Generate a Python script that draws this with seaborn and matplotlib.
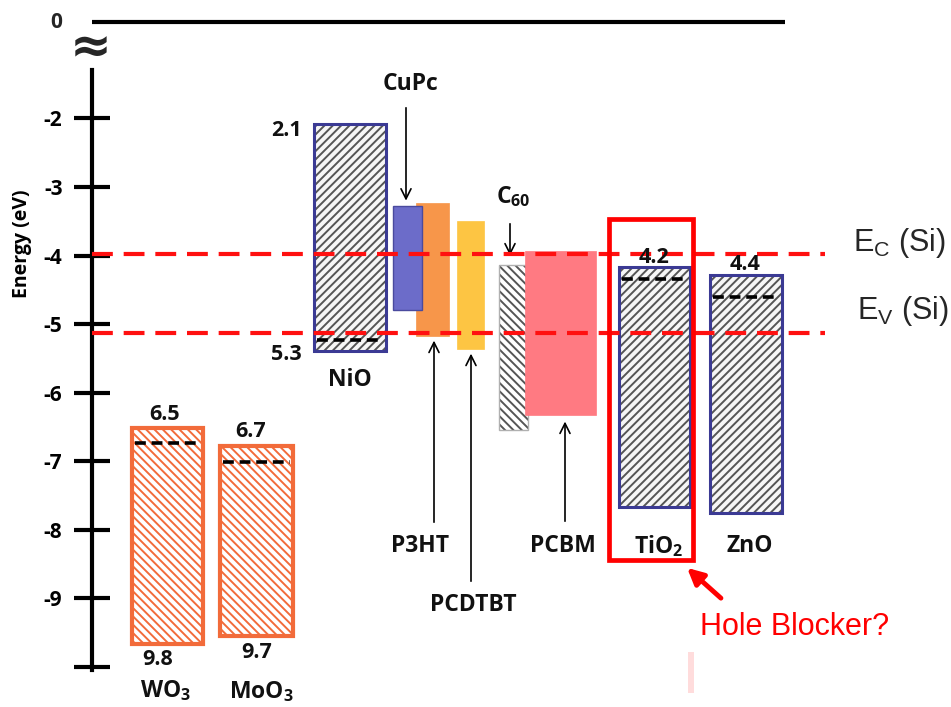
import numpy as np
import pandas as pd
import matplotlib
matplotlib.use("Agg")
import matplotlib.pyplot as plt
from matplotlib.patches import Rectangle
import seaborn as sns

# ---------------- data ----------------
materials = ["WO3", "MoO3", "NiO", "CuPc", "P3HT", "PCDTBT", "C60", "PCBM", "TiO2", "ZnO"]
upper_E = [-6.51, -6.78, -2.08, -3.28, -3.23, -3.49, -4.14, -3.93, -4.17, -4.28]
lower_E = [-9.66, -9.55, -5.39, -4.79, -5.17, -5.36, -6.54, -6.33, -7.67, -7.75]
fermi_materials = ["WO3", "MoO3", "NiO", "TiO2", "ZnO"]
fermi_E = [-6.73, -7.01, -5.23, -4.34, -4.60]
upper_label_mat = ["WO3", "MoO3", "NiO", "TiO2", "ZnO"]
upper_label_txt = ["6.5", "6.7", "2.1", "4.2", "4.4"]
lower_label_mat = ["WO3", "MoO3", "NiO"]
lower_label_txt = ["9.8", "9.7", "5.3"]
si_levels = [-3.98, -5.13]
si_names = [r"E$_\mathregular{C}$ (Si)", r"E$_\mathregular{V}$ (Si)"]
ytick_values = [-2, -3, -4, -5, -6, -7, -8, -9, -10]
ytick_labels = ["-2", "-3", "-4", "-5", "-6", "-7", "-8", "-9", ""]
display_names = {"WO3": r"WO$_\mathregular{3}$", "MoO3": r"MoO$_\mathregular{3}$", "NiO": "NiO",
                 "CuPc": "CuPc", "P3HT": "P3HT", "PCDTBT": "PCDTBT", "C60": r"C$_\mathregular{60}$",
                 "PCBM": "PCBM", "TiO2": r"TiO$_\mathregular{2}$", "ZnO": "ZnO"}

df = pd.DataFrame({"material": materials, "upper": upper_E, "lower": lower_E})

# ---------------- layout ----------------
W, H = 951, 707
Y0, SLOPE = 392.7, 68.58          # pixel row of -6 eV, pixels per eV


def E(ypix):
    return -6 - (ypix - Y0) / SLOPE


x_center = {"WO3": 167.5, "MoO3": 256.5, "NiO": 350, "CuPc": 407.5, "P3HT": 432.5,
            "PCDTBT": 470.5, "C60": 513.5, "PCBM": 560.5, "TiO2": 654.5, "ZnO": 746}
x_width = {"WO3": 71, "MoO3": 73, "NiO": 72, "CuPc": 29, "P3HT": 33,
           "PCDTBT": 27, "C60": 29, "PCBM": 71, "TiO2": 71, "ZnO": 72}
style = {
    "WO3":  dict(face="white", hatch="\\\\\\\\", hcol="#F26B3A", edge="#F26B3A", lw=3.0, z=3),
    "MoO3": dict(face="white", hatch="\\\\\\\\", hcol="#F26B3A", edge="#F26B3A", lw=3.0, z=3),
    "NiO":  dict(face="#F6F6F6", hatch="////", hcol="#555555", edge="#3B3A94", lw=2.2, z=3),
    "TiO2": dict(face="#F6F6F6", hatch="////", hcol="#555555", edge="#3B3A94", lw=2.2, z=3),
    "ZnO":  dict(face="#F6F6F6", hatch="////", hcol="#555555", edge="#3B3A94", lw=2.2, z=3),
    "C60":  dict(face="white", hatch="\\\\\\\\", hcol="#555555", edge="#B0B0B0", lw=1.0, z=3),
    "P3HT": dict(face="#F7964A", hatch=None, hcol=None, edge="#F7964A", lw=0.5, z=3),
    "CuPc": dict(face="#6C6CC9", hatch=None, hcol=None, edge="#4A4A9E", lw=1.0, z=4),
    "PCDTBT": dict(face="#FDC543", hatch=None, hcol=None, edge="#FDC543", lw=0.5, z=3),
    "PCBM": dict(face="#FF7A82", hatch=None, hcol=None, edge="#FF7A82", lw=0.5, z=4),
}

sns.set_theme(style="white")
BOLD_FAMILY = ["Open Sans", "DejaVu Sans"]
plt.rcParams["font.family"] = BOLD_FAMILY
plt.rcParams["mathtext.default"] = "regular"
plt.rcParams["hatch.linewidth"] = 1.4

fig = plt.figure(figsize=(W / 100, H / 100), dpi=100)
ax = fig.add_axes([0, 0, 1, 1])
ax.set_xlim(0, W)
ax.set_ylim(E(H), E(0))
ax.set_facecolor("white")

# ---------------- boxes ----------------
for _, row in df.iterrows():
    m = row["material"]
    s = style[m]
    xc, w = x_center[m], x_width[m]
    h = row["upper"] - row["lower"]
    if s["hatch"]:
        ax.bar(xc, h, bottom=row["lower"], width=w, color=s["face"], edgecolor=s["hcol"],
               hatch=s["hatch"], linewidth=0, zorder=s["z"])
        ax.bar(xc, h, bottom=row["lower"], width=w, fill=False, edgecolor=s["edge"],
               linewidth=s["lw"], zorder=s["z"] + 0.1)
    else:
        ax.bar(xc, h, bottom=row["lower"], width=w, color=s["face"], edgecolor=s["edge"],
               linewidth=s["lw"], zorder=s["z"])

# fermi-like dashed levels
for m, ef in zip(fermi_materials, fermi_E):
    xc, w = x_center[m], x_width[m]
    ax.hlines(ef, xc - w / 2 + 3, xc + w / 2 - 3, colors="black", linewidth=2.6,
              linestyles=(0, (3.0, 1.6)), zorder=6)

# Si reference levels
for lev in si_levels:
    ax.hlines(lev, 92, 825, colors="#FF1010", linewidth=3.0,
              linestyles=(0, (5, 2.6)), zorder=7)
ax.text(853, E(243), si_names[0], fontsize=22, family=["Liberation Sans"], va="center", ha="left")
ax.text(857, E(311), si_names[1], fontsize=22, family=["Liberation Sans"], va="center", ha="left")

# ---------------- axis ----------------
ax.spines["left"].set_position(("data", 92))
ax.spines["left"].set_bounds(E(670), E(70))
ax.spines["left"].set_linewidth(3)
ax.spines["left"].set_color("black")
for sp in ["top", "right", "bottom"]:
    ax.spines[sp].set_visible(False)
ax.set_xticks([])
ax.set_yticks(ytick_values)
ax.set_yticklabels(ytick_labels)
ax.tick_params(axis="y", direction="inout", length=26.6, width=3, pad=8,
               labelsize=15, colors="black", left=True)
for lab in ax.get_yticklabels():
    lab.set_fontweight("bold")
ax.set_ylabel("Energy (eV)", fontsize=14, fontweight="bold", color="black")
ax.yaxis.set_label_coords(32 / W, 1 - 244 / H)

# zero line and break symbol
ax.hlines(E(22), 92, 785, colors="black", linewidth=3, zorder=5)
ax.text(62, E(22), "0", fontsize=15, fontweight="bold", ha="right", va="center")
ax.text(91, E(48), "≈", fontsize=36, fontweight="bold", ha="center", va="center",
        family=["DejaVu Sans"])

# ---------------- labels ----------------
lab_kw = dict(fontsize=15.5, fontweight="bold", ha="center", va="center", color="#111111")
num_pos = {"WO3": (165, 415), "MoO3": (251, 432), "TiO2": (654, 258), "ZnO": (745, 265)}
for m, t in zip(upper_label_mat, upper_label_txt):
    if m == "NiO":
        ax.text(302, E(131), t, **{**lab_kw, "ha": "right"})
    else:
        px, py = num_pos[m]
        ax.text(px, E(py), t, zorder=8, **lab_kw)
low_pos = {"WO3": (158, 660), "MoO3": (257, 653)}
for m, t in zip(lower_label_mat, lower_label_txt):
    if m == "NiO":
        ax.text(302, E(355), t, **{**lab_kw, "ha": "right"})
    else:
        px, py = low_pos[m]
        ax.text(px, E(py), t, **lab_kw)

name_pos = {"WO3": (166, 691), "MoO3": (261, 692), "NiO": (350, 380), "CuPc": (411, 84),
            "P3HT": (420, 546), "PCDTBT": (473, 605), "C60": (513, 197), "PCBM": (563, 546),
            "TiO2": (659, 546), "ZnO": (750, 546)}
for m, (px, py) in name_pos.items():
    ax.text(px, E(py), display_names[m], fontsize=16.5, fontweight="bold", ha="center",
            va="center", color="#111111")

# pointer arrows from labels to the boxes
up = dict(zip(materials, upper_E))
lo = dict(zip(materials, lower_E))
arrow_kw = dict(arrowstyle="->", color="black", lw=1.2, mutation_scale=18)
ax.annotate("", xy=(406, up["CuPc"] + 0.04), xytext=(406, E(105)), arrowprops=arrow_kw)
ax.annotate("", xy=(510, up["C60"] + 0.1), xytext=(510, E(221)), arrowprops=arrow_kw)
ax.annotate("", xy=(434, lo["P3HT"] - 0.03), xytext=(434, E(525)), arrowprops=arrow_kw)
ax.annotate("", xy=(471, lo["PCDTBT"] - 0.03), xytext=(471, E(584)), arrowprops=arrow_kw)
ax.annotate("", xy=(565, lo["PCBM"] - 0.05), xytext=(565, E(524)), arrowprops=arrow_kw)

# highlight of TiO2 as hole blocker
ax.add_patch(Rectangle((609, E(560)), 84, E(219) - E(560), fill=False,
                       edgecolor="#FF0000", linewidth=3.4, zorder=9))
ax.annotate("", xy=(685, E(566)), xytext=(723, E(600)),
            arrowprops=dict(arrowstyle="-|>", color="#FF0000", lw=3.5, mutation_scale=24))
ax.text(700, E(627), "Hole Blocker?", fontsize=22, color="#FF0000", family=["Liberation Sans"],
        ha="left", va="center")
ax.add_patch(Rectangle((688, E(693)), 6, E(652) - E(693), color="#FFDCDC", linewidth=0))

fig.savefig("out.png", dpi=100)
